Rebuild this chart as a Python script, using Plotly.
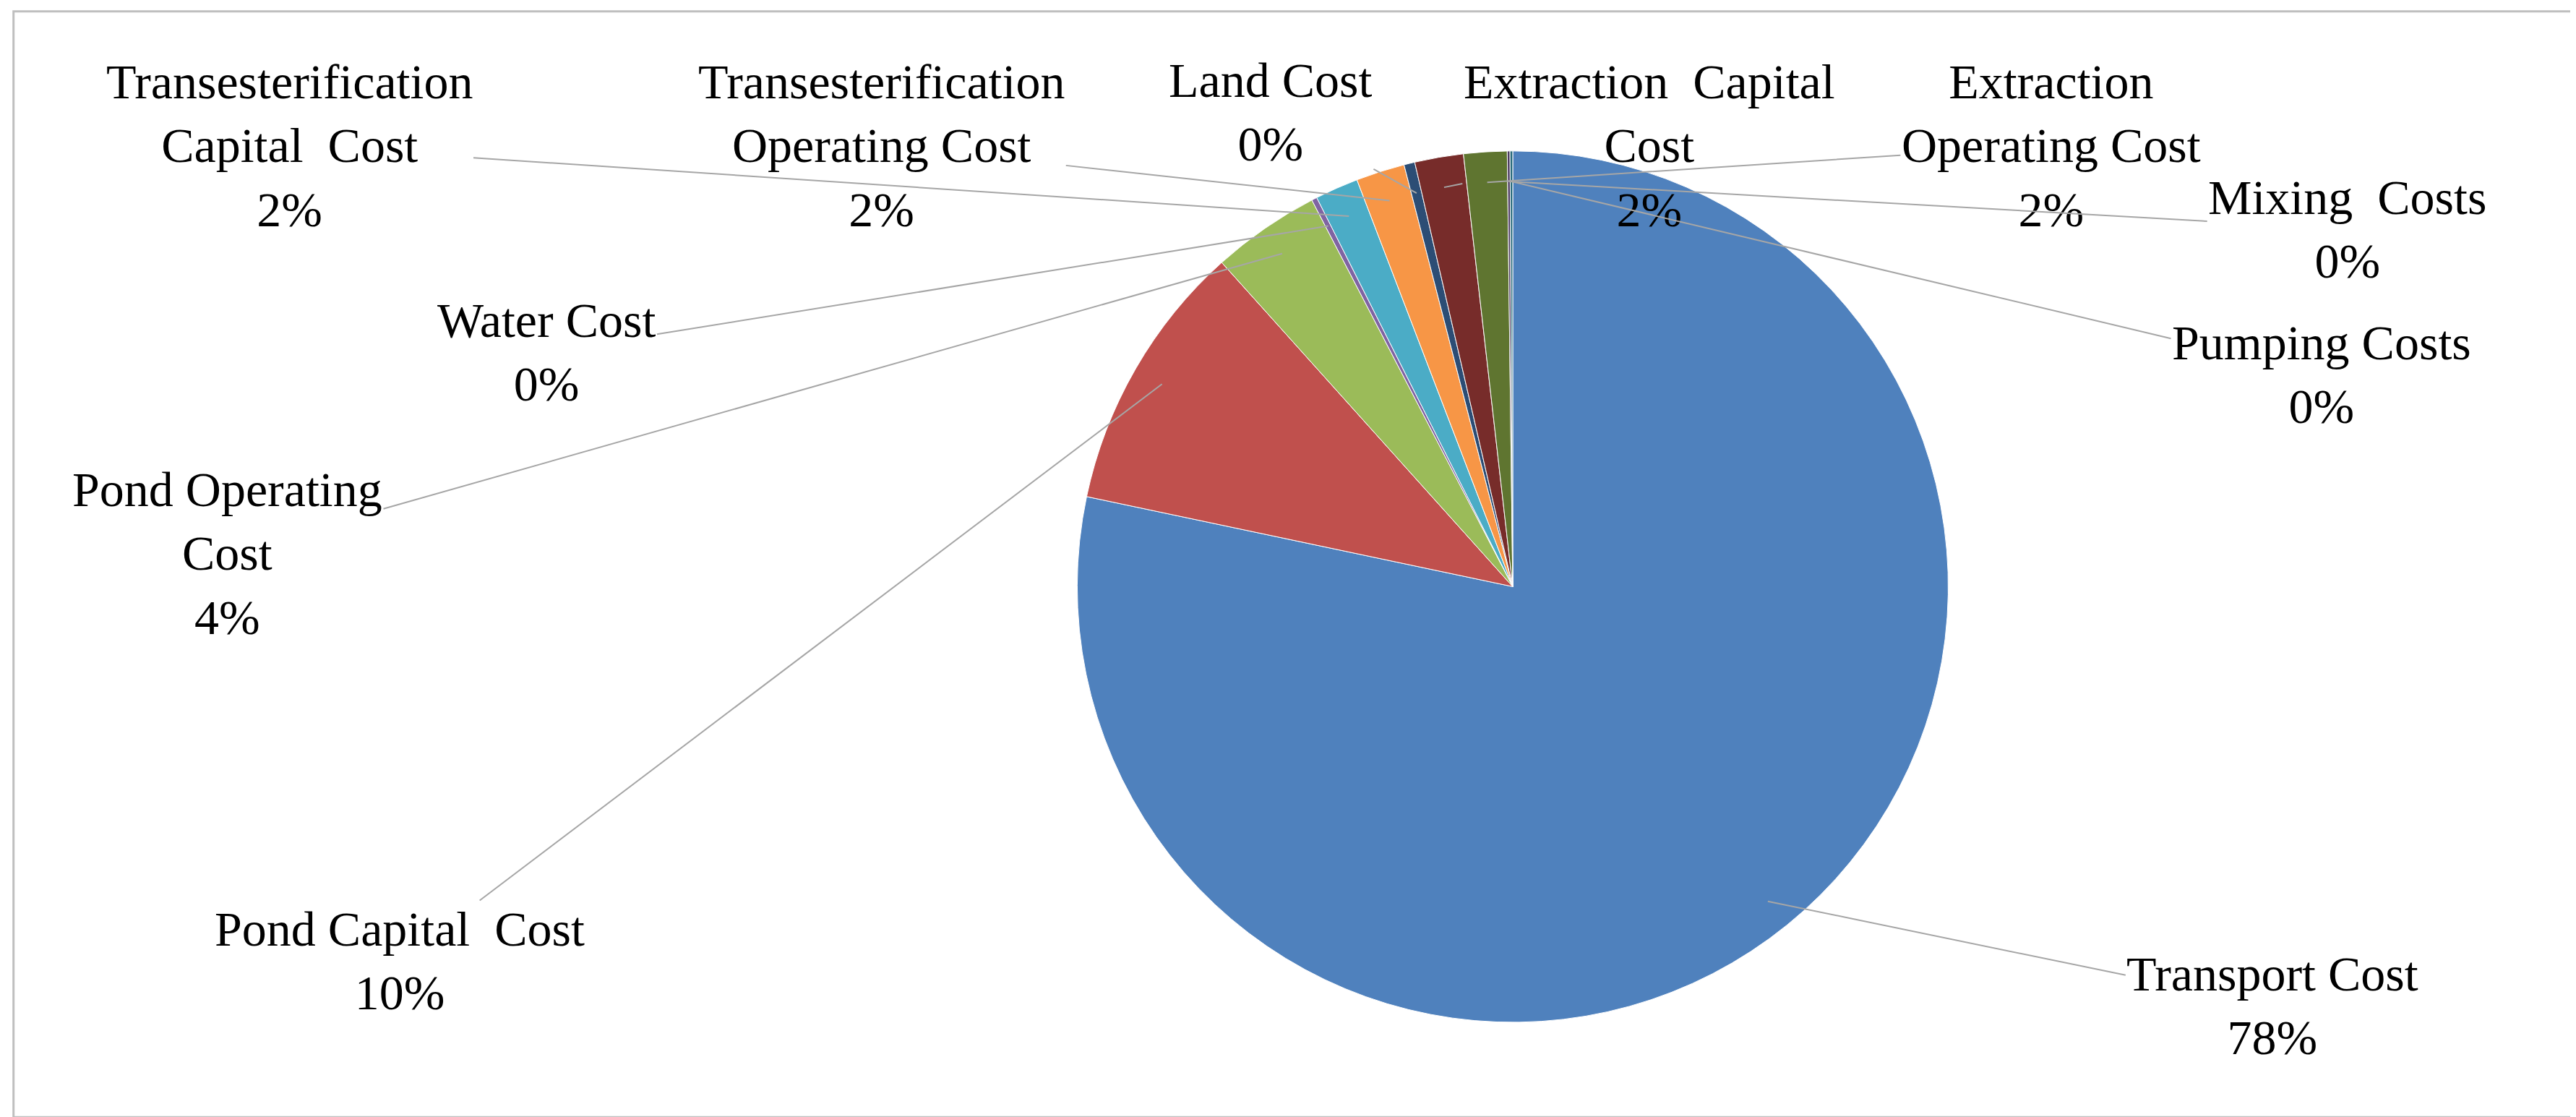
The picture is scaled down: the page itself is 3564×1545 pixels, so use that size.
import math
import plotly.graph_objects as go

labels = ["Transport Cost", "Pond Capital Cost", "Pond Operating Cost", "Water Cost",
          "Transesterification Capital Cost", "Transesterification Operating Cost",
          "Land Cost", "Extraction Capital Cost", "Extraction Operating Cost",
          "Mixing Costs", "Pumping Costs"]
values = [78, 10, 4, 0.2, 1.6, 1.8, 0.4, 1.8, 1.6, 0.1, 0.1]
pct_text = ["78%", "10%", "4%", "0%", "2%", "2%", "0%", "2%", "2%", "0%", "0%"]
label_text = ["Transport Cost", "Pond Capital  Cost", "Pond Operating<br>Cost", "Water Cost",
              "Transesterification<br>Capital  Cost", "Transesterification<br>Operating Cost",
              "Land Cost", "Extraction  Capital<br>Cost", "Extraction<br>Operating Cost",
              "Mixing  Costs", "Pumping Costs"]
colors = ["#4F81BD", "#C0504D", "#9BBB59", "#8064A2", "#4BACC6", "#F79646",
          "#2C4D75", "#772C2A", "#5F7530", "#4D3B62", "#276A7C"]
label_pos = [(0.880, 0.105), (0.153, 0.145), (0.086, 0.51), (0.210, 0.69),
             (0.110, 0.875), (0.340, 0.875), (0.491, 0.905), (0.638, 0.875),
             (0.794, 0.875), (0.909, 0.80), (0.899, 0.67)]

W, H = 3564, 1545
dom_x = [0.33, 0.84]
dom_y = [0.09, 0.87]
cx = (dom_x[0] + dom_x[1]) / 2 * W
cy = (dom_y[0] + dom_y[1]) / 2 * H
r = min((dom_x[1] - dom_x[0]) * W, (dom_y[1] - dom_y[0]) * H) / 2

fig = go.Figure(go.Pie(
    labels=labels, values=values, sort=False, direction="clockwise", rotation=0,
    marker=dict(colors=colors, line=dict(color="white", width=1)),
    textinfo="none", hoverinfo="label+percent", showlegend=False,
    domain=dict(x=dom_x, y=dom_y)))

total = sum(values)
cum = 0
for v, lt, pt, (lx, ly) in zip(values, label_text, pct_text, label_pos):
    th = 2 * math.pi * (cum + v / 2) / total
    cum += v
    hx = cx + 0.93 * r * math.sin(th)
    hy = cy + 0.93 * r * math.cos(th)
    fig.add_annotation(x=hx / W, y=hy / H, xref="paper", yref="paper",
                       ax=lx * W - hx, ay=-(ly * H - hy), axref="pixel", ayref="pixel",
                       text=f"{lt}<br>{pt}", showarrow=True, arrowhead=0,
                       arrowwidth=2, arrowcolor="#A6A6A6",
                       font=dict(family="Liberation Serif", size=68, color="#000000"),
                       align="center")

fig.add_shape(type="rect", xref="paper", yref="paper", x0=0.003, y0=0.005, x1=0.997, y1=0.995,
              line=dict(color="#BFBFBF", width=3))
fig.update_layout(width=W, height=H, margin=dict(l=0, r=0, t=0, b=0),
                  paper_bgcolor="white", plot_bgcolor="white")
fig.write_html("out.html")
